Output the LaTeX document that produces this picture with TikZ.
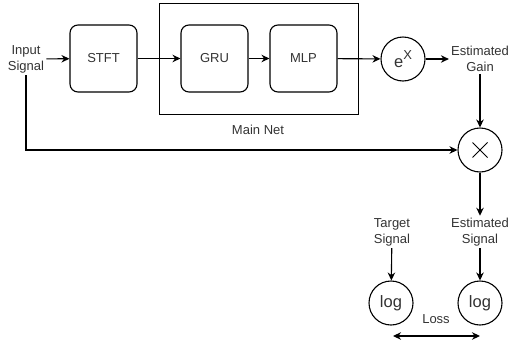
\documentclass[tikz,border=0pt]{standalone}
\usepackage{fontspec}
\setmainfont{Liberation Sans}
\usetikzlibrary{arrows.meta}
\begin{document}
\begin{tikzpicture}[x=1pt,y=-1pt,
  every node/.style={font=\fontsize{13}{16}\selectfont, text=black!80},
  block/.style={draw=black, rounded corners=8pt, minimum width=67pt, minimum height=67pt, line width=1.1pt, inner sep=0pt},
  op/.style={draw=black, circle, minimum size=44pt, inner sep=0pt, line width=1.1pt},
  big/.style={font=\fontsize{16.5}{18}\selectfont},
  lbl/.style={align=center, inner sep=2pt},
  conn/.style={line width=1.1pt, -{Stealth[length=8pt,width=7.5pt]}},
  biconn/.style={line width=1.1pt, {Stealth[length=8pt,width=7.5pt]}-{Stealth[length=8pt,width=7.5pt]}}]
\useasboundingbox (0,0) rectangle (509,346);

% processing chain
\node[lbl] (in) at (26,59) {Input\\Signal};
\node[block] (stft) at (103.5,58.5) {STFT};
\node[draw=black, line width=1pt, minimum width=199pt, minimum height=111pt, inner sep=0pt] (main) at (258.5,58.5) {};
\node (mainlbl) at (258,130) {Main Net};
\node[block] (gru) at (214.5,58.5) {GRU};
\node[block] (mlp) at (303.5,58.5) {MLP};
\node[op, big] (exp) at (403,59) {\raisebox{-2pt}{e}\raisebox{0.4em}{\fontsize{13}{13}\selectfont X}};
\node[lbl] (gain) at (480,59) {Estimated\\Gain};

% gain application
\node[op] (mul) at (480,150) {};
\draw[line width=1pt] ([shift={(-7.5,-7.5)}]mul.center) -- ([shift={(7.5,7.5)}]mul.center)
                      ([shift={(-7.5,7.5)}]mul.center) -- ([shift={(7.5,-7.5)}]mul.center);

% loss
\node[lbl] (est) at (480,232) {Estimated\\Signal};
\node[lbl] (tgt) at (392,232) {Target\\Signal};
\node[op, big] (logt) at (391,303) {log};
\node[op, big] (loge) at (480,303) {log};
\node (loss) at (436,319) {Loss};
\coordinate (lossa) at (393,336);
\coordinate (lossb) at (480,336);

% connectors
\draw[conn] (in) -- (stft);
\draw[conn] (stft) -- (gru);
\draw[conn] (gru) -- (mlp);
\draw[conn] (mlp) -- (exp);
\draw[conn] (exp) -- (gain);
\draw[conn] (gain) -- (mul);
\draw[conn] (in.south) |- (mul.west);
\draw[conn] (mul) -- (est);
\draw[conn] (tgt) -- (logt);
\draw[conn] (est) -- (loge);
\draw[biconn] (lossa) -- (lossb);
\end{tikzpicture}
\end{document}
